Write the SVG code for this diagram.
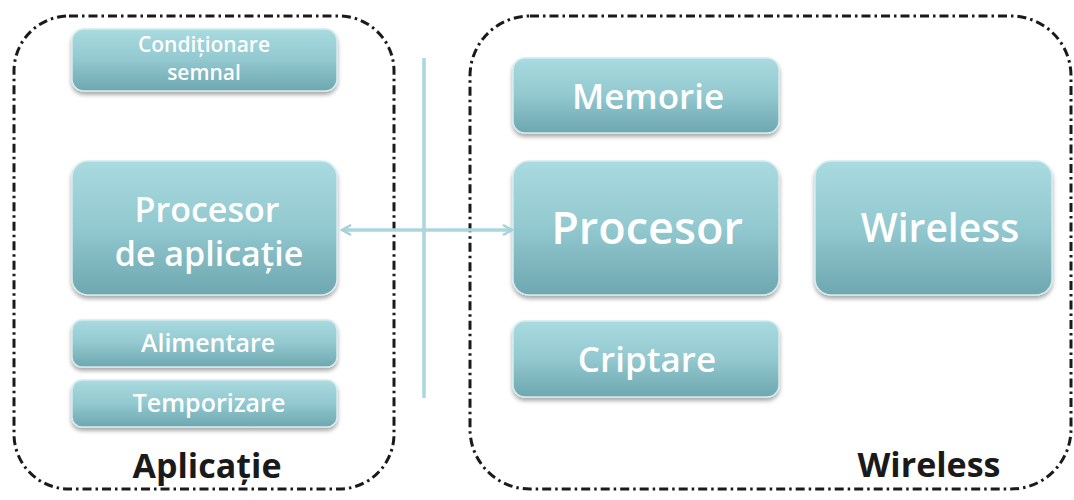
<svg xmlns="http://www.w3.org/2000/svg" width="1074" height="500" viewBox="0 0 1074 500">
<defs>
<linearGradient id="g" x1="0" y1="0" x2="0" y2="1">
<stop offset="0" stop-color="#a9dbe0"/>
<stop offset="0.5" stop-color="#92c8cf"/>
<stop offset="1" stop-color="#6ea7b0"/>
</linearGradient>
<filter id="sh" x="-10%" y="-10%" width="120%" height="130%">
<feGaussianBlur in="SourceAlpha" stdDeviation="2"/>
<feOffset dx="0" dy="3" result="b"/>
<feComponentTransfer><feFuncA type="linear" slope="0.35"/></feComponentTransfer>
<feMerge><feMergeNode/><feMergeNode in="SourceGraphic"/></feMerge>
</filter>
<marker id="ah" viewBox="0 0 12 12" refX="10" refY="6" markerWidth="12" markerHeight="12" markerUnits="userSpaceOnUse" orient="auto-start-reverse">
<path d="M1,1 L10,6 L1,11" fill="none" stroke="#a6d3da" stroke-width="2.5"/>
</marker>
</defs>
<style>
.box{fill:url(#g);stroke:#d3ecef;stroke-width:1.5;filter:url(#sh)}
.t{font-family:"Open Sans","Noto Sans",sans-serif;font-weight:600;fill:#ffffff;text-anchor:middle}
.lbl{font-family:"Open Sans","Noto Sans",sans-serif;font-weight:700;fill:#1a1a1a;text-anchor:middle}
.cont{fill:none;stroke:#1a1a1a;stroke-width:3;stroke-dasharray:9 4 2.5 4}
.conn{stroke:#aad6dc;fill:none}
</style>
<rect width="1074" height="500" fill="#ffffff"/>
<g id="container-aplicatie">
<rect class="cont" x="14" y="16" width="380" height="473" rx="55"/>
<text class="lbl" x="207" y="478" font-size="34">Aplicație</text>
</g>
<g id="container-wireless">
<rect class="cont" x="470" y="16" width="601" height="473" rx="60"/>
<text class="lbl" x="929" y="477" font-size="34">Wireless</text>
</g>
<g id="conditionare">
<rect class="box" x="72" y="29" width="265" height="62" rx="12"/>
<text class="t" x="204" y="52" font-size="21">Condiționare</text>
<text class="t" x="204" y="80" font-size="21">semnal</text>
</g>
<g id="procesor-aplicatie">
<rect class="box" x="72" y="161" width="265" height="134" rx="16"/>
<text class="t" x="207" y="222" font-size="34">Procesor</text>
<text class="t" x="209" y="266" font-size="34">de aplicație</text>
</g>
<g id="alimentare">
<rect class="box" x="72" y="320" width="265" height="47" rx="10"/>
<text class="t" x="208" y="352" font-size="25">Alimentare</text>
</g>
<g id="temporizare">
<rect class="box" x="72" y="380" width="265" height="47" rx="10"/>
<text class="t" x="209" y="412" font-size="25">Temporizare</text>
</g>
<g id="memorie">
<rect class="box" x="513" y="58" width="266" height="75" rx="12"/>
<text class="t" x="648" y="109" font-size="35">Memorie</text>
</g>
<g id="procesor">
<rect class="box" x="513" y="161" width="266" height="134" rx="16"/>
<text class="t" x="647" y="244" font-size="45">Procesor</text>
</g>
<g id="wireless">
<rect class="box" x="815" y="161" width="237" height="134" rx="16"/>
<text class="t" x="940" y="242" font-size="39">Wireless</text>
</g>
<g id="criptare">
<rect class="box" x="513" y="321" width="266" height="76" rx="12"/>
<text class="t" x="647" y="372" font-size="35">Criptare</text>
</g>
<g id="connectors">
<line class="conn" x1="424" y1="58" x2="424" y2="398" stroke-width="3.5"/>
<line class="conn" x1="342" y1="230" x2="512" y2="230" stroke-width="3.5" marker-start="url(#ah)" marker-end="url(#ah)"/>
</g>
</svg>
